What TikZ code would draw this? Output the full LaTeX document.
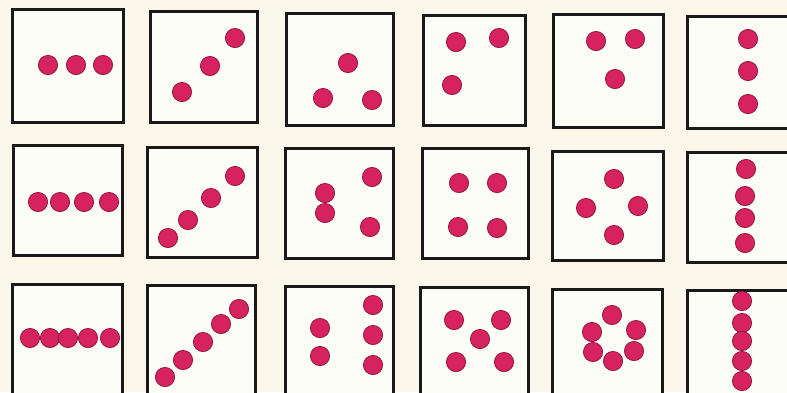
\documentclass[tikz,border=0pt]{standalone}
\begin{document}
\begin{tikzpicture}[x=1pt,y=-1pt,
  boxframe/.style={draw=black!90,line width=3pt,fill=boxwhite},
  pip/.style={fill=pipred,draw=pipred!70!black,line width=0.8pt}]
\definecolor{pipred}{RGB}{214,34,94}
\definecolor{paper}{RGB}{250,247,234}
\definecolor{boxwhite}{RGB}{253,253,248}
\useasboundingbox (0,0) rectangle (787,392);
\clip (0,0) rectangle (787,392);
\fill[paper] (0,0) rectangle (787,392);
\foreach \a/\b/\c/\d in {12/9/123/122,150/11/257/122,286/13/393/125,423/15/525/125,553/14/663/127,687/16/795/128,
  13/145/122/255,147/147/257/257,285/148/393/258,422/148/528/258,552/151/663/260,687/152/795/262,
  12/284/122/400,147/285/255/400,285/286/393/400,420/287/528/400,552/289/662/400,687/290/795/400}
  \draw[boxframe] (\a,\b) rectangle (\c,\d);
\def\r{9.6}
\foreach \x/\y in {48/65,76/65,103/65,
  182/92,210/66,235/38,
  348/63,323/98,372/100,
  456/42,499/38,452/85,
  596/41,635/39,615/79,
  748/39,748/71,748/104,
  38/202,60/202,84/202,109/202,
  168/238,188/220,211/198,235/176,
  372/177,325/193,325/213,370/227,
  459/183,497/183,458/227,497/228,
  614/179,586/208,638/206,614/235,
  746/169,745/196,745/218,745/243,
  30/338,50/338,68/338,88/338,110/338,
  165/377,183/360,203/342,221/324,239/309,
  373/305,320/328,373/335,320/356,373/365,
  454/320,501/320,480/339,456/362,504/362,
  612/315,592/332,636/330,593/352,634/351,613/361,
  742/301,742/323,742/341,742/361,742/381}
  \draw[pip] (\x,\y) circle (\r);
\end{tikzpicture}
\end{document}
